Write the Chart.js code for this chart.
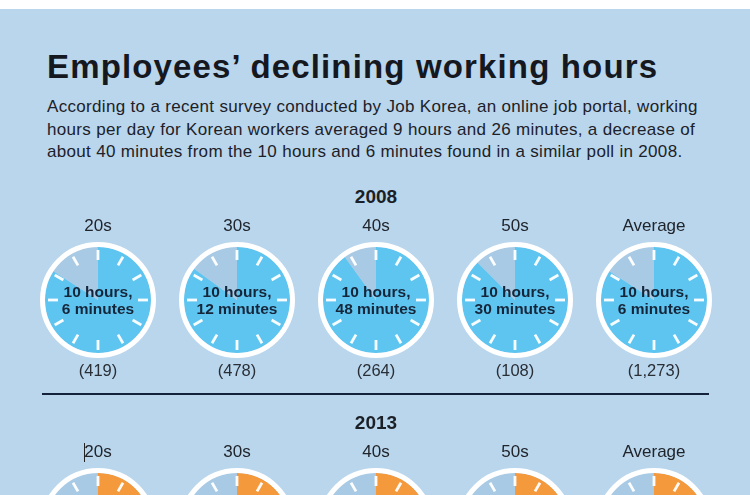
<!DOCTYPE html>
<html>
<head>
<meta charset="utf-8">
<script src="https://cdn.jsdelivr.net/npm/chart.js@4/dist/chart.umd.min.js"></script>
<style>
  html, body { margin: 0; padding: 0; }
  body {
    width: 750px; height: 495px; overflow: hidden; position: relative;
    background: #ffffff;
    font-family: "Liberation Sans", Arial, sans-serif;
    color: #1b1f26;
  }
  #panel { position: absolute; left: 0; top: 9px; width: 750px; height: 486px; background: #b9d6ed; }
  .t { position: absolute; white-space: nowrap; line-height: 1; }
  .c { transform: translateX(-50%); text-align: center; }
  #title { left: 47px; font-size: 33px; font-weight: bold; letter-spacing: 1.15px; color: #15181e; }
  #sub { left: 47px; font-size: 17px; line-height: 22.5px; letter-spacing: 0.32px; color: #1d2128; }
  .year { font-size: 19px; font-weight: bold; }
  .lbl { font-size: 17px; color: #20242b; }
  .inner { font-size: 15.5px; font-weight: bold; color: #16263a; }
  .cnt { font-size: 16.5px; color: #2a2e35; }
  canvas { position: absolute; }
  #rule { position: absolute; left: 42px; top: 393px; width: 667px; height: 2px; background: #14233a; }
  #cursor { position: absolute; left: 84px; top: 443px; width: 1px; height: 19px; background: #222; }
</style>
</head>
<body>
<div id="panel"></div>
<div id="title" class="t" style="top:50px">Employees’ declining working hours</div>
<div id="sub" class="t" style="top:96px">According to a recent survey conducted by Job Korea, an online job portal, working<br>hours per day for Korean workers averaged 9 hours and 26 minutes, a decrease of<br>about 40 minutes from the 10 hours and 6 minutes found in a similar poll in 2008.</div>
<div id="rule"></div>
<div id="cursor"></div>
<div id="charts"></div>

<script>
// ── Data ──
const ageGroups = ['20s', '30s', '40s', '50s', 'Average'];

const hours2008 = [10, 10, 10, 10, 10];
const minutes2008 = [6, 12, 48, 30, 6];
const respondents2008 = ['(419)', '(478)', '(264)', '(108)', '(1,273)'];

// 2013 dials are cut off at the bottom of the picture; only the average is given in the text
const hours2013 = [9, 9, 9, 9, 9];
const minutes2013 = [18, 30, 36, 24, 26];
const respondents2013 = ['', '', '', '', ''];

const DIAL_MINUTES = 12 * 60;

// ── Layout ──
const colX = [98, 237, 376, 515, 654];
const sections = [
    { year: '2008', top: 0,   hours: hours2008, minutes: minutes2008, counts: respondents2008, fill: '#5ec5f1' },
    { year: '2013', top: 226, hours: hours2013, minutes: minutes2013, counts: respondents2013, fill: '#f49a3c' },
];
const EMPTY = '#a9cae4';
const SIZE = 132;     // canvas size per dial
const FILL_R = 53;    // pie radius

function addText(cls, text, x, baseline, size) {
    const d = document.createElement('div');
    d.className = 't c ' + cls;
    d.innerHTML = text;
    d.style.left = x + 'px';
    d.style.top = (baseline - 0.8465 * size) + 'px';
    document.body.appendChild(d);
    return d;
}

// ring + 12 hour marks drawn over the pie
const clockFace = {
    id: 'clockFace',
    afterDatasetsDraw(chart) {
        const arc = chart.getDatasetMeta(0).data[0];
        if (!arc) return;
        const { x, y, outerRadius } = arc;
        const ctx = chart.ctx;
        ctx.save();
        ctx.strokeStyle = '#ffffff';
        ctx.lineWidth = 5;
        ctx.beginPath();
        ctx.arc(x, y, outerRadius + 2.5, 0, Math.PI * 2);
        ctx.stroke();
        ctx.lineWidth = 2.8;
        ctx.lineCap = 'butt';
        ctx.strokeStyle = 'rgba(255,255,255,0.95)';
        for (let i = 0; i < 12; i++) {
            const a = i / 12 * Math.PI * 2;
            const s = Math.sin(a), c = -Math.cos(a);
            ctx.beginPath();
            ctx.moveTo(x + s * (outerRadius - 13), y + c * (outerRadius - 13));
            ctx.lineTo(x + s * (outerRadius - 3), y + c * (outerRadius - 3));
            ctx.stroke();
        }
        ctx.restore();
    }
};

sections.forEach(sec => {
    const cy = 300 + sec.top;
    addText('year', sec.year, 376, 203 + sec.top, 19);
    ageGroups.forEach((g, i) => {
        const cx = colX[i];
        addText('lbl', g, cx, 231 + sec.top, 17);

        const cv = document.createElement('canvas');
        cv.width = SIZE; cv.height = SIZE;
        cv.style.left = (cx - SIZE / 2) + 'px';
        cv.style.top = (cy - SIZE / 2) + 'px';
        document.getElementById('charts').appendChild(cv);

        const worked = sec.hours[i] * 60 + sec.minutes[i];
        new Chart(cv.getContext('2d'), {
            type: 'pie',
            data: {
                labels: ['Worked', 'Rest'],
                datasets: [{
                    data: [worked, DIAL_MINUTES - worked],
                    backgroundColor: [sec.fill, EMPTY],
                    borderWidth: 0
                }]
            },
            options: {
                responsive: false,
                animation: false,
                layout: { padding: SIZE / 2 - FILL_R },
                plugins: { legend: { display: false }, tooltip: { enabled: false } }
            },
            plugins: [clockFace]
        });

        addText('inner', sec.hours[i] + ' hours,', cx, 297 + sec.top, 15.5);
        addText('inner', sec.minutes[i] + ' minutes', cx, 314 + sec.top, 15.5);
        if (sec.counts[i]) addText('cnt', sec.counts[i], cx, 376 + sec.top, 16.5);
    });
});
</script>
</body>
</html>
